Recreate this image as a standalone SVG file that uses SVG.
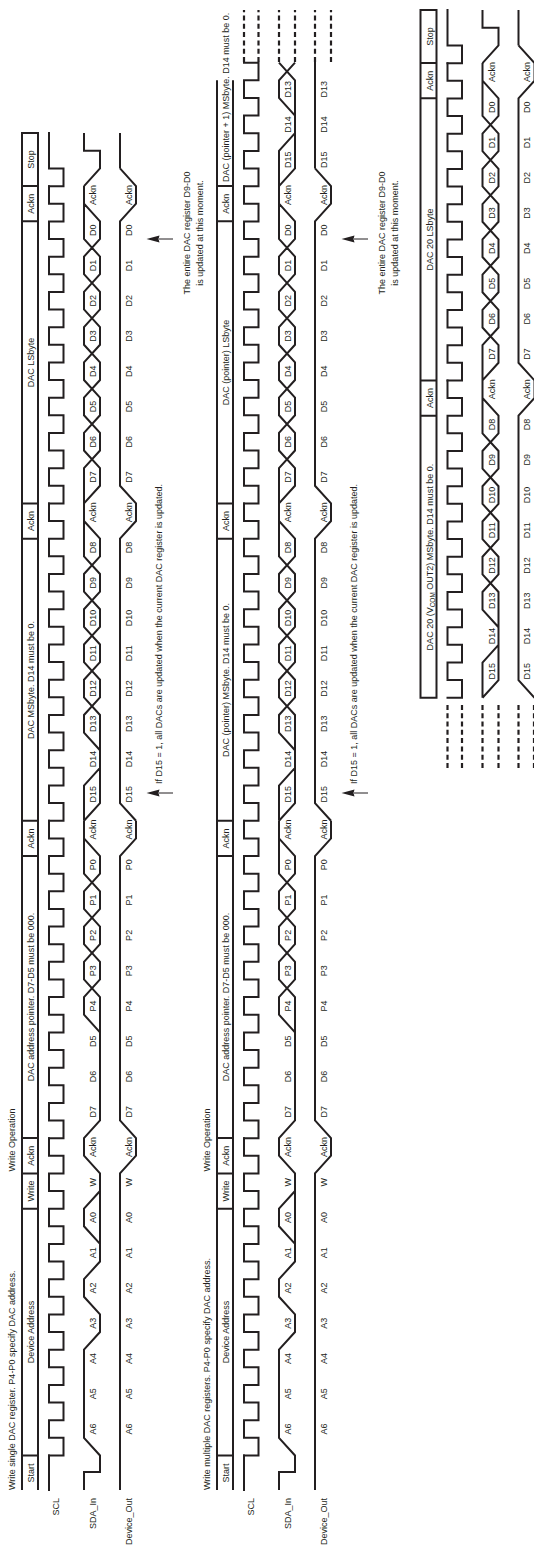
<svg xmlns="http://www.w3.org/2000/svg" xmlns:xlink="http://www.w3.org/1999/xlink" width="534" height="1550" viewBox="0 0 534 1550">
<style>
.w{fill:none;stroke:#231f20;stroke-width:2;stroke-linejoin:miter}
.c{stroke-linecap:square}
.h{fill:none;stroke:#231f20;stroke-width:2}
.d{fill:none;stroke:#231f20;stroke-width:2.2;stroke-dasharray:5 3.3}
.a{fill:#231f20;stroke:none}
.s{fill:none;stroke:#231f20;stroke-width:1}
text{font-family:"Liberation Sans",Arial,sans-serif;font-size:9px;fill:#231f20}
.m{text-anchor:middle}
.e{text-anchor:end}
</style>
<defs>
<path id="clk9" class="w c" d="M0 49V63.5h17.7V49h17.56V63.5h17.7V49h17.56V63.5h17.7V49h17.56V63.5h17.7V49h17.56V63.5h17.7V49h17.56V63.5h17.7V49h17.56V63.5h17.7V49h17.56V63.5h17.7V49h17.56V63.5h17.7V49h17.56"/>
<path id="sda-addr" class="w" d="M60 84H78V100H94.5L112.2 84H200.32L217.98 100H235.58L253.24 84H270.84L288.5 100H376.62L394.28 84H411.88L429.54 100H552.92L570.58 84H588.18L605.84 100H623.44L641.1 84H658.7L676.36 100H693.96L711.62 84"/>
<path id="sda-a0" class="w" d="M306.1 100L323.76 84H341.36L359.02 100"/>
<path id="sda-ptr" class="w" d="M517.66 100L535.32 84H552.92L570.58 100H588.18L605.84 84H623.44L641.1 100H658.7L676.36 84H729.22"/>
<path id="sda-data" class="w" d="M729.22 84H764.48L782.14 100M729.22 84L746.88 100H835L852.66 84H870.26L887.92 100H905.52L923.18 84H940.78L958.44 100H976.04L993.7 84H1046.56L1064.22 100H1081.82L1099.48 84H1117.08L1134.74 100H1152.34L1170 84H1187.6L1205.26 100H1222.86L1240.52 84H1258.12L1275.78 100H1293.38L1311.04 84H1363.9M799.74 100L817.4 84H835L852.66 100H870.26L887.92 84H905.52L923.18 100H940.78L958.44 84H976.04L993.7 100H1011.3L1028.96 84M1046.56 84H1081.82L1099.48 100H1117.08L1134.74 84H1152.34L1170 100H1187.6L1205.26 84H1222.86L1240.52 100H1258.12L1275.78 84H1293.38L1311.04 100H1328.64L1346.3 84"/>
<path id="sda-stop" class="w" d="M1363.9 84L1381.56 100H1399.16V84H1417"/>
<path id="dev-a" class="w" d="M60 120H376.62L394.28 136H411.88L429.54 120H693.96L711.62 136H729.22"/>
<path id="dev-b" class="w" d="M729.22 136L746.88 120H1011.3L1028.96 136H1046.56L1064.22 120H1328.64L1346.3 136H1363.9L1381.56 120"/>
</defs>
<g id="diagram" transform="translate(0,1550) rotate(-90)">

<g id="row1">
<path class="h" d="M60 22H1417V38H60M94.5 22V38M341.36 22V38M376.62 22V38M411.88 22V38M693.96 22V38M729.22 22V38M1011.3 22V38M1046.56 22V38M1328.64 22V38M1363.9 22V38"/>
<path class="w c" d="M60 49H94.5"/>
<use href="#clk9" x="94.5"/><use href="#clk9" x="411.84"/><use href="#clk9" x="729.18"/><use href="#clk9" x="1046.52"/>
<path class="w c" d="M1363.86 49V63.5h17.7V49H1417"/>
<use href="#sda-addr"/><use href="#sda-a0"/><use href="#sda-ptr"/><use href="#sda-data"/><use href="#sda-stop"/>
<use href="#dev-a"/><use href="#dev-b"/>
<path class="w" d="M1381.56 120H1417"/>
<path class="s" d="M1311 159V173M757 159V173"/>
<path class="a" d="M1311 146.5L1314.5 159.5L1311 158.5L1307.5 159.5ZM757 146.5L760.5 159.5L757 158.5L753.5 159.5Z"/>
<text x="60" y="15.3">Write single DAC register. P4-P0 specify DAC address.</text>
<text class="m" x="410" y="15.3">Write Operation</text>
<g transform="translate(0,34)" text-anchor="middle">
<text x="77">Start</text><text x="218">Device Address</text><text x="359">Write</text><text x="394.25">Ackn</text><text x="553">DAC address pointer. D7-D5 must be 000.</text><text x="711.6">Ackn</text><text x="870">DAC MSbyte. D14 must be 0.</text><text x="1029">Ackn</text><text x="1187.6">DAC LSbyte</text><text x="1346.3">Ackn</text><text x="1390.5">Stop</text>
</g>
<text class="e" x="52" y="59.3">SCL</text><text class="e" x="52" y="96">SDA_In</text><text class="e" x="52" y="131.7">Device_Out</text>
<g transform="translate(0,96)" text-anchor="middle">
<text x="121">A6</text><text x="156.26">A5</text><text x="191.52">A4</text><text x="226.78">A3</text><text x="262.04">A2</text><text x="297.3">A1</text><text x="332.56">A0</text><text x="367.82">W</text><text x="403.08">Ackn</text><text x="438.34">D7</text><text x="473.6">D6</text><text x="508.86">D5</text><text x="544.12">P4</text><text x="579.38">P3</text><text x="614.64">P2</text><text x="649.9">P1</text><text x="685.16">P0</text><text x="720.42">Ackn</text><text x="755.68">D15</text><text x="790.94">D14</text><text x="826.2">D13</text><text x="861.46">D12</text><text x="896.72">D11</text><text x="931.98">D10</text><text x="967.24">D9</text><text x="1002.5">D8</text><text x="1037.76">Ackn</text><text x="1073.02">D7</text><text x="1108.28">D6</text><text x="1143.54">D5</text><text x="1178.8">D4</text><text x="1214.06">D3</text><text x="1249.32">D2</text><text x="1284.58">D1</text><text x="1319.84">D0</text><text x="1355.1">Ackn</text>
</g>
<g transform="translate(0,131.7)" text-anchor="middle">
<text x="121">A6</text><text x="156.26">A5</text><text x="191.52">A4</text><text x="226.78">A3</text><text x="262.04">A2</text><text x="297.3">A1</text><text x="332.56">A0</text><text x="367.82">W</text><text x="403.08">Ackn</text><text x="438.34">D7</text><text x="473.6">D6</text><text x="508.86">D5</text><text x="544.12">P4</text><text x="579.38">P3</text><text x="614.64">P2</text><text x="649.9">P1</text><text x="685.16">P0</text><text x="720.42">Ackn</text><text x="755.68">D15</text><text x="790.94">D14</text><text x="826.2">D13</text><text x="861.46">D12</text><text x="896.72">D11</text><text x="931.98">D10</text><text x="967.24">D9</text><text x="1002.5">D8</text><text x="1037.76">Ackn</text><text x="1073.02">D7</text><text x="1108.28">D6</text><text x="1143.54">D5</text><text x="1178.8">D4</text><text x="1214.06">D3</text><text x="1249.32">D2</text><text x="1284.58">D1</text><text x="1319.84">D0</text><text x="1355.1">Ackn</text>
</g>
<text x="766" y="162">If D15 = 1, all DACs are updated when the current DAC register is updated.</text>
<text class="m" x="1317" y="190">The entire DAC register D9-D0</text>
<text class="m" x="1317" y="203">is updated at this moment.</text>
</g>

<g id="row2" transform="translate(0,195)">
<path class="h" d="M60 22H1469.68M60 38H1469.68M94.5 22V38M341.36 22V38M376.62 22V38M411.88 22V38M693.96 22V38M729.22 22V38M1011.3 22V38M1046.56 22V38M1328.64 22V38M1363.9 22V38"/>
<path class="w c" d="M60 49H94.5"/>
<use href="#clk9" x="94.5"/><use href="#clk9" x="411.84"/><use href="#clk9" x="729.18"/><use href="#clk9" x="1046.52"/>
<path class="w c" d="M1363.86 49V63.5h17.7V49h17.56V63.5h17.7V49h17.56V63.5h17.7V49h17.56V63.5h17.7V49"/>
<path class="d" d="M1488 49H1540M1488 63.5H1540M1488 84H1540M1488 100H1540M1488 120H1540M1488 136H1540"/>
<use href="#sda-addr"/><use href="#sda-a0"/><use href="#sda-ptr"/><use href="#sda-data"/>
<path class="w" d="M1363.9 84H1399.16L1416.82 100M1363.9 84L1381.56 100H1469.68L1487.34 84M1434.42 100L1452.08 84H1469.68L1487.34 100"/>
<use href="#dev-a"/><use href="#dev-b"/>
<path class="w" d="M1381.56 120H1488"/>
<path class="s" d="M1311 159V173M757 159V173"/>
<path class="a" d="M1311 146.5L1314.5 159.5L1311 158.5L1307.5 159.5ZM757 146.5L760.5 159.5L757 158.5L753.5 159.5Z"/>
<text x="60" y="15.3">Write multiple DAC registers. P4-P0 specify DAC address.</text>
<text class="m" x="410" y="15.3">Write Operation</text>
<g transform="translate(0,34)" text-anchor="middle">
<text x="77">Start</text><text x="218">Device Address</text><text x="359">Write</text><text x="394.25">Ackn</text><text x="553">DAC address pointer. D7-D5 must be 000.</text><text x="711.6">Ackn</text><text x="870">DAC (pointer) MSbyte. D14 must be 0.</text><text x="1029">Ackn</text><text x="1187.6">DAC (pointer) LSbyte</text><text x="1346.3">Ackn</text>
</g>
<text x="1368" y="34">DAC (pointer + 1) MSbyte. D14 must be 0.</text>
<text class="e" x="52" y="59.3">SCL</text><text class="e" x="52" y="96">SDA_In</text><text class="e" x="52" y="131.7">Device_Out</text>
<g transform="translate(0,96)" text-anchor="middle">
<text x="121">A6</text><text x="156.26">A5</text><text x="191.52">A4</text><text x="226.78">A3</text><text x="262.04">A2</text><text x="297.3">A1</text><text x="332.56">A0</text><text x="367.82">W</text><text x="403.08">Ackn</text><text x="438.34">D7</text><text x="473.6">D6</text><text x="508.86">D5</text><text x="544.12">P4</text><text x="579.38">P3</text><text x="614.64">P2</text><text x="649.9">P1</text><text x="685.16">P0</text><text x="720.42">Ackn</text><text x="755.68">D15</text><text x="790.94">D14</text><text x="826.2">D13</text><text x="861.46">D12</text><text x="896.72">D11</text><text x="931.98">D10</text><text x="967.24">D9</text><text x="1002.5">D8</text><text x="1037.76">Ackn</text><text x="1073.02">D7</text><text x="1108.28">D6</text><text x="1143.54">D5</text><text x="1178.8">D4</text><text x="1214.06">D3</text><text x="1249.32">D2</text><text x="1284.58">D1</text><text x="1319.84">D0</text><text x="1355.1">Ackn</text><text x="1390.36">D15</text><text x="1425.62">D14</text><text x="1460.88">D13</text>
</g>
<g transform="translate(0,131.7)" text-anchor="middle">
<text x="121">A6</text><text x="156.26">A5</text><text x="191.52">A4</text><text x="226.78">A3</text><text x="262.04">A2</text><text x="297.3">A1</text><text x="332.56">A0</text><text x="367.82">W</text><text x="403.08">Ackn</text><text x="438.34">D7</text><text x="473.6">D6</text><text x="508.86">D5</text><text x="544.12">P4</text><text x="579.38">P3</text><text x="614.64">P2</text><text x="649.9">P1</text><text x="685.16">P0</text><text x="720.42">Ackn</text><text x="755.68">D15</text><text x="790.94">D14</text><text x="826.2">D13</text><text x="861.46">D12</text><text x="896.72">D11</text><text x="931.98">D10</text><text x="967.24">D9</text><text x="1002.5">D8</text><text x="1037.76">Ackn</text><text x="1073.02">D7</text><text x="1108.28">D6</text><text x="1143.54">D5</text><text x="1178.8">D4</text><text x="1214.06">D3</text><text x="1249.32">D2</text><text x="1284.58">D1</text><text x="1319.84">D0</text><text x="1355.1">Ackn</text><text x="1390.36">D15</text><text x="1425.62">D14</text><text x="1460.88">D13</text>
</g>
<text x="766" y="162">If D15 = 1, all DACs are updated when the current DAC register is updated.</text>
<text class="m" x="1317" y="190">The entire DAC register D9-D0</text>
<text class="m" x="1317" y="203">is updated at this moment.</text>
</g>

<g id="row3" transform="translate(123,398.5)">
<path class="h" d="M729.22 22H1417V38H729.22ZM1011.3 22V38M1046.56 22V38M1328.64 22V38M1363.9 22V38"/>
<use href="#clk9" x="729.18"/><use href="#clk9" x="1046.52"/>
<path class="w c" d="M1363.86 49V63.5h17.7V49H1417"/>
<path class="d" d="M659 49H725M659 63.5H725M659 84H725M659 100H725M659 120H725M659 135.5H725"/>
<use href="#sda-data"/><use href="#sda-stop"/>
<use href="#dev-b"/>
<path class="w" d="M1381.56 120H1417"/>
<g transform="translate(0,34)" text-anchor="middle">
<text x="870">DAC 20 (V<tspan font-size="6.5" dy="2">COM</tspan><tspan dy="-2"> OUT2) MSbyte. D14 must be 0.</tspan></text><text x="1029">Ackn</text><text x="1187.6">DAC 20 LSbyte</text><text x="1346.3">Ackn</text><text x="1390.5">Stop</text>
</g>
<g transform="translate(0,96)" text-anchor="middle">
<text x="755.68">D15</text><text x="790.94">D14</text><text x="826.2">D13</text><text x="861.46">D12</text><text x="896.72">D11</text><text x="931.98">D10</text><text x="967.24">D9</text><text x="1002.5">D8</text><text x="1037.76">Ackn</text><text x="1073.02">D7</text><text x="1108.28">D6</text><text x="1143.54">D5</text><text x="1178.8">D4</text><text x="1214.06">D3</text><text x="1249.32">D2</text><text x="1284.58">D1</text><text x="1319.84">D0</text><text x="1355.1">Ackn</text>
</g>
<g transform="translate(0,131.7)" text-anchor="middle">
<text x="755.68">D15</text><text x="790.94">D14</text><text x="826.2">D13</text><text x="861.46">D12</text><text x="896.72">D11</text><text x="931.98">D10</text><text x="967.24">D9</text><text x="1002.5">D8</text><text x="1037.76">Ackn</text><text x="1073.02">D7</text><text x="1108.28">D6</text><text x="1143.54">D5</text><text x="1178.8">D4</text><text x="1214.06">D3</text><text x="1249.32">D2</text><text x="1284.58">D1</text><text x="1319.84">D0</text><text x="1355.1">Ackn</text>
</g>
</g>
</g>
</svg>
